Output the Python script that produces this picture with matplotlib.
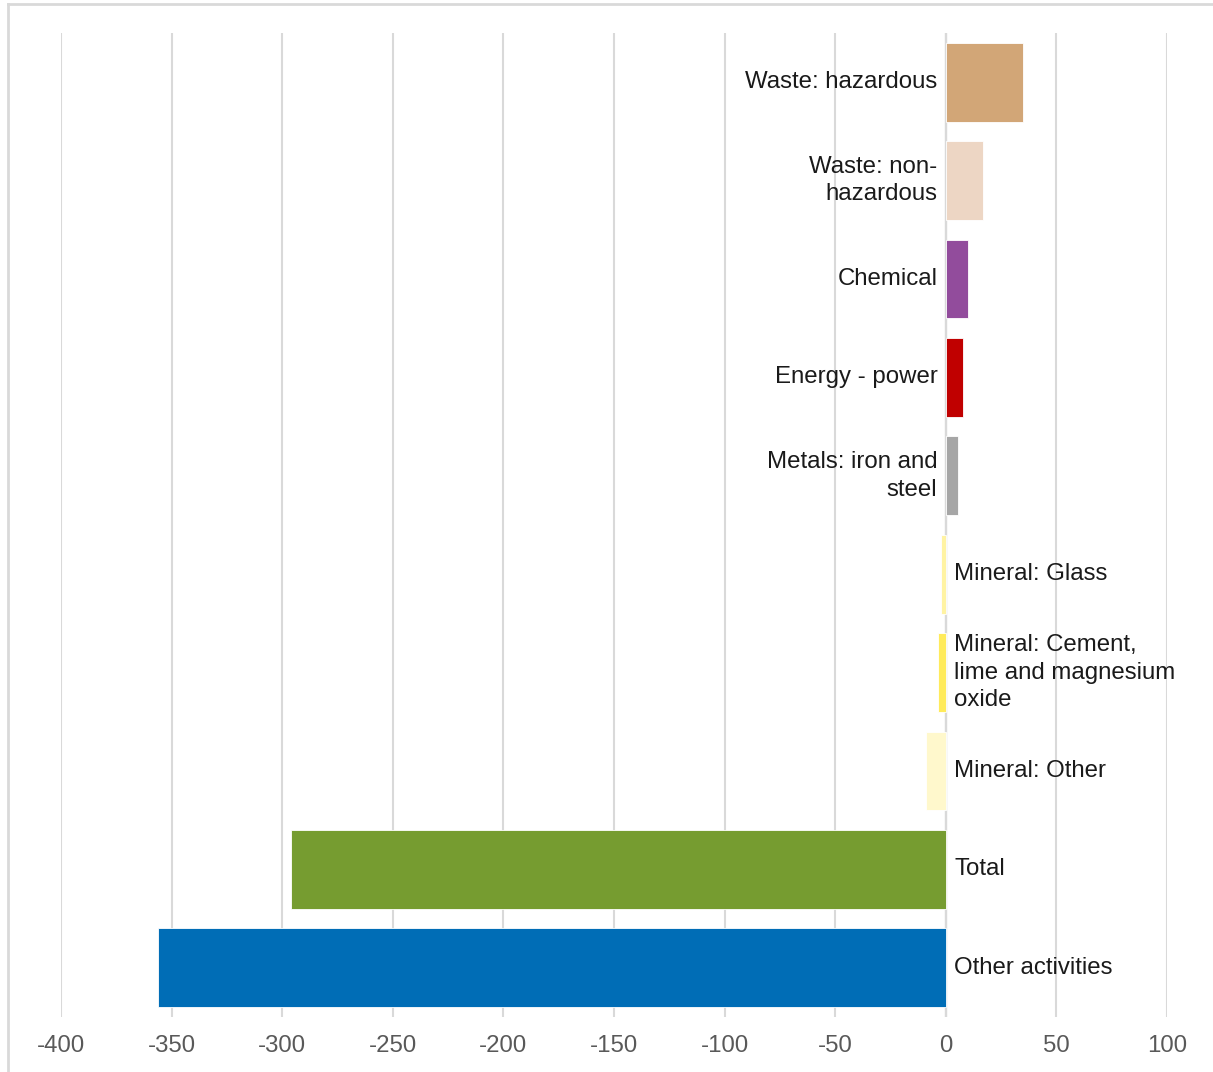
import matplotlib.pyplot as plt
from matplotlib.lines import Line2D

plt.rcParams['font.family'] = ['Liberation Sans', 'DejaVu Sans']

# change by sector, top to bottom
sectors = ["Waste: hazardous", "Waste: non-\nhazardous", "Chemical", "Energy - power",
           "Metals: iron and\nsteel", "Mineral: Glass",
           "Mineral: Cement,\nlime and magnesium\noxide", "Mineral: Other",
           "Total", "Other activities"]
values = [35, 17, 10, 8, 5.5, -2, -3.7, -9, -296, -356]
colours = ["#D2A677", "#EDD6C4", "#924C9C", "#C00000", "#A6A6A6",
           "#FFF3A3", "#FFEB5B", "#FFF8CC", "#769C30", "#006DB6"]
xticks = [-400, -350, -300, -250, -200, -150, -100, -50, 0, 50, 100]

fig = plt.figure(figsize=(12.13, 10.72), dpi=100)
ax = fig.add_axes([61 / 1213, 1 - 1017 / 1072, (1167 - 61) / 1213, (1017 - 33) / 1072])

pos = list(range(len(sectors)))
ax.barh(pos, values, height=0.8, color=colours, edgecolor="white", linewidth=0.6, zorder=3)

for i, (lab, v) in enumerate(zip(sectors, values)):
    if v >= 0:
        ax.annotate(lab, (0, i), xytext=(-6, 0), textcoords="offset points",
                    ha="right", va="center", multialignment="right",
                    fontsize=17.3, color="#1a1a1a", linespacing=1.32, zorder=4)
    else:
        ax.annotate(lab, (0, i), xytext=(6, 0), textcoords="offset points",
                    ha="left", va="center", multialignment="left",
                    fontsize=17.3, color="#1a1a1a", linespacing=1.32, zorder=4)

ax.set_xlim(-400, 100)
ax.set_ylim(len(sectors) - 0.5, -0.5)
ax.set_xticks(xticks)
ax.set_xticklabels([str(t) for t in xticks])
ax.set_yticks([])
ax.grid(axis="x", color="#D9D9D9", linewidth=1.5, zorder=0)
ax.axvline(0, color="#D0D0D0", linewidth=1.6, zorder=1)
ax.tick_params(axis="x", length=0, pad=13, labelsize=17.3, labelcolor="#595959")
for s in ax.spines.values():
    s.set_visible(False)

# light frame round the chart
fig.add_artist(Line2D([8 / 1213, 8 / 1213], [0, 1 - 4 / 1072], color="#D9D9D9", linewidth=2))
fig.add_artist(Line2D([8 / 1213, 1], [1 - 4 / 1072, 1 - 4 / 1072], color="#D9D9D9", linewidth=2))

fig.savefig("out.png", dpi=100)
